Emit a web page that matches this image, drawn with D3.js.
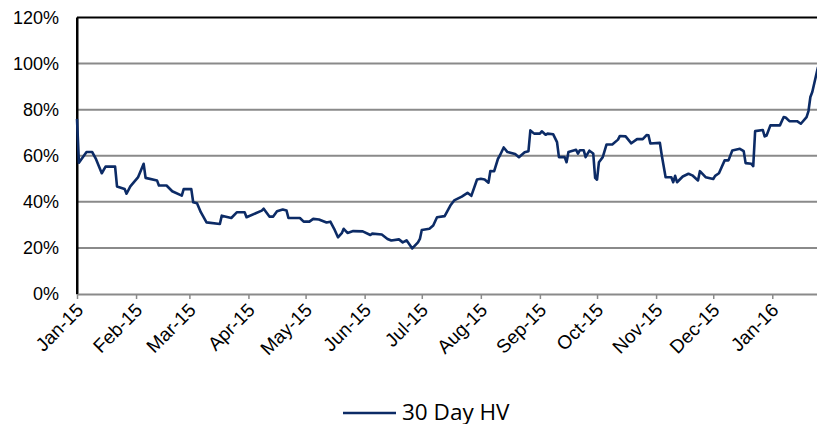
<!DOCTYPE html>
<html>
<head>
<meta charset="utf-8">
<script src="https://cdn.jsdelivr.net/npm/d3@7"></script>
<style>
  body { margin: 0; background: #fff; }
  svg { display: block; }
</style>
</head>
<body>
<div id="chart"></div>
<script>
// 30 day historical volatility
var dates = ["2015-01-01","2015-01-02","2015-01-06","2015-01-09","2015-01-11","2015-01-14","2015-01-16","2015-01-21","2015-01-22","2015-01-26",
  "2015-01-27","2015-01-29","2015-02-02","2015-02-05","2015-02-06","2015-02-12","2015-02-13","2015-02-17","2015-02-20","2015-02-25",
  "2015-02-26","2015-03-02","2015-03-03","2015-03-05","2015-03-07","2015-03-10","2015-03-17","2015-03-18","2015-03-23","2015-03-26",
  "2015-03-30","2015-03-31","2015-04-08","2015-04-09","2015-04-12","2015-04-14","2015-04-16","2015-04-19","2015-04-21","2015-04-22",
  "2015-04-28","2015-04-30","2015-05-03","2015-05-05","2015-05-08","2015-05-12","2015-05-14","2015-05-16","2015-05-18","2015-05-20",
  "2015-05-21","2015-05-23","2015-05-26","2015-05-31","2015-06-04","2015-06-05","2015-06-10","2015-06-13","2015-06-15","2015-06-19",
  "2015-06-21","2015-06-23","2015-06-26","2015-06-29","2015-06-30","2015-07-01","2015-07-05","2015-07-07","2015-07-09","2015-07-13",
  "2015-07-16","2015-07-18","2015-07-22","2015-07-25","2015-07-27","2015-07-30","2015-08-01","2015-08-03","2015-08-05","2015-08-06",
  "2015-08-08","2015-08-10","2015-08-11","2015-08-13","2015-08-15","2015-08-19","2015-08-21","2015-08-24","2015-08-26","2015-08-27",
  "2015-08-29","2015-09-01","2015-09-02","2015-09-04","2015-09-05","2015-09-08","2015-09-10","2015-09-11","2015-09-14","2015-09-15",
  "2015-09-16","2015-09-20","2015-09-21","2015-09-22","2015-09-24","2015-09-25","2015-09-27","2015-09-29","2015-09-30","2015-10-01",
  "2015-10-02","2015-10-04","2015-10-06","2015-10-09","2015-10-12","2015-10-13","2015-10-16","2015-10-19","2015-10-22","2015-10-25",
  "2015-10-27","2015-10-28","2015-10-29","2015-11-03","2015-11-04","2015-11-06","2015-11-09","2015-11-10","2015-11-11","2015-11-12",
  "2015-11-15","2015-11-18","2015-11-20","2015-11-23","2015-11-24","2015-11-27","2015-12-01","2015-12-02","2015-12-04","2015-12-07",
  "2015-12-09","2015-12-11","2015-12-15","2015-12-17","2015-12-18","2015-12-21","2015-12-22","2015-12-23","2015-12-27","2015-12-28",
  "2015-12-29","2015-12-31","2016-01-05","2016-01-07","2016-01-08","2016-01-10","2016-01-14","2016-01-16","2016-01-19","2016-01-20",
  "2016-01-21","2016-01-22","2016-01-25"];
var hv = [76,57,61.6,61.6,58.5,52.4,55.3,55.3,46.7,45.6,
  43.5,46.7,50.6,56.5,50.4,49.3,47.1,47.1,44.6,42.7,
  45.5,45.5,39.8,39.4,35.5,31.1,30.4,34,33,35.5,
  35.5,33.3,36.2,37,33.6,33.6,35.9,36.7,36.2,33,
  33,31.4,31.4,32.6,32.3,31,31.4,28.3,24.6,26.4,
  28.3,26.5,27.3,27.2,25.6,26.2,25.8,23.9,23.2,23.7,
  22.4,23.3,19.8,22.4,23.9,27.8,28.3,29.7,33.3,33.8,
  38.4,40.6,42.3,43.9,42.6,49.7,50,49.7,48.3,53.4,
  53.3,58.7,60.1,63.6,61.6,60.8,59.4,61.5,62,71,
  69.6,69.6,70.6,69.1,69.6,69.3,65.9,59.4,59.4,57.2,
  61.6,62.6,60.9,62.4,62.4,59.4,62.2,61,50.4,49.6,
  57.2,59.4,64.9,64.9,67,68.6,68.4,65.4,67.2,67.2,
  69,68.9,65.3,65.6,60.1,50.7,50.7,48.5,51.3,48.5,
  51,52.2,51.5,49.3,53.3,50.7,49.9,51.3,52.4,58,
  58,62.3,63,62,56.8,56.5,55.5,70.7,71.2,68.4,
  68.8,73.2,73.2,76.8,76.6,75,75,73.9,76.8,79.4,
  85.5,87.7,98.5];
var seriesName = "30 Day HV";
var yTicks = [0, 0.2, 0.4, 0.6, 0.8, 1.0, 1.2];

var W = 817, H = 424;
var mLeft = 77, mRight = 818, mTop = 17.5, mBottom = 294;
var parse = d3.timeParse("%Y-%m-%d");
var data = dates.map((d, i) => ({date: parse(d), v: hv[i] / 100}));

var svg = d3.select("#chart").append("svg").attr("width", W).attr("height", H);

var x = d3.scaleTime()
  .domain([parse("2015-01-01"), parse("2016-01-25")])
  .range([mLeft, mRight]);
var y = d3.scaleLinear().domain([0, 1.2]).range([mBottom, mTop]);

// gridlines
svg.append("g").selectAll("line")
  .data(yTicks.filter(t => t > 0 && t < 1.2))
  .enter().append("line")
  .attr("x1", mLeft).attr("x2", W)
  .attr("y1", d => y(d)).attr("y2", d => y(d))
  .attr("stroke", "#8a8a8a").attr("stroke-width", 2);

// top border
svg.append("line")
  .attr("x1", mLeft).attr("x2", W)
  .attr("y1", y(1.2)).attr("y2", y(1.2))
  .attr("stroke", "#000").attr("stroke-width", 2);

// y axis
var yAxis = svg.append("g")
  .attr("transform", "translate(" + mLeft + ",0)")
  .call(d3.axisLeft(y).tickValues(yTicks).tickFormat(d3.format(".0%")).tickSize(0).tickPadding(18));
yAxis.select(".domain").attr("stroke", "#000").attr("stroke-width", 2);
yAxis.selectAll("text")
  .attr("font-family", "Liberation Sans, Arial, sans-serif")
  .attr("font-size", 18).attr("fill", "#000");

// x axis
var xAxis = svg.append("g")
  .attr("transform", "translate(0," + mBottom + ")")
  .call(d3.axisBottom(x).ticks(d3.timeMonth.every(1)).tickFormat(d3.timeFormat("%b-%y")).tickSize(5).tickSizeOuter(0));
xAxis.select(".domain").attr("stroke", "#8a8a8a").attr("stroke-width", 2);
xAxis.selectAll(".tick line").attr("stroke", "#8a8a8a").attr("stroke-width", 1.5);
xAxis.selectAll("text")
  .attr("font-family", "Liberation Sans, Arial, sans-serif")
  .attr("font-size", 19).attr("fill", "#000")
  .attr("text-anchor", "end")
  .attr("transform", "translate(5,10) rotate(-45)")
  .attr("dy", "0.35em").attr("dx", "-0.2em").attr("y", 0);

// left axis drawn over grid
svg.append("line")
  .attr("x1", mLeft).attr("x2", mLeft)
  .attr("y1", mTop).attr("y2", mBottom)
  .attr("stroke", "#000").attr("stroke-width", 2);

var line = d3.line().x(d => x(d.date)).y(d => y(d.v));
svg.append("path")
  .datum(data)
  .attr("fill", "none")
  .attr("stroke", "#0c2b66")
  .attr("stroke-width", 2.6)
  .attr("stroke-linejoin", "round")
  .attr("d", line);

// legend
var lg = svg.append("g").attr("transform", "translate(343,413)");
lg.append("line").attr("x1", 0).attr("x2", 53).attr("y1", 0).attr("y2", 0)
  .attr("stroke", "#0c2b66").attr("stroke-width", 2.6);
lg.append("text").attr("x", 59).attr("y", 7)
  .attr("font-family", "Open Sans, sans-serif").attr("font-size", 22.5)
  .attr("fill", "#000").text(seriesName);
</script>
</body>
</html>
